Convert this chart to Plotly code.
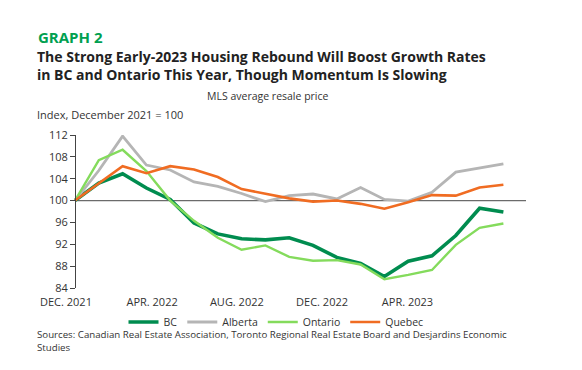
import plotly.graph_objects as go

months = ["Dec 2021", "Jan 2022", "Feb 2022", "Mar 2022", "Apr 2022", "May 2022", "Jun 2022",
          "Jul 2022", "Aug 2022", "Sep 2022", "Oct 2022", "Nov 2022", "Dec 2022", "Jan 2023",
          "Feb 2023", "Mar 2023", "Apr 2023", "May 2023", "Jun 2023"]
bc      = [100, 103.2, 104.9, 102.3, 100.2, 95.9, 93.9, 93.0, 92.8, 93.2, 91.8, 89.6, 88.5, 86.1, 88.9, 89.9, 93.6, 98.6, 97.9]
alberta = [100, 105.5, 111.8, 106.5, 105.6, 103.4, 102.6, 101.3, 99.8, 100.9, 101.2, 100.3, 102.4, 100.2, 99.9, 101.5, 105.2, 105.9, 106.7]
ontario = [100, 107.4, 109.3, 105.4, 100.0, 96.3, 93.2, 91.0, 91.8, 89.7, 89.0, 89.1, 88.3, 85.6, 86.4, 87.3, 91.9, 95.0, 95.8]
quebec  = [100, 103.2, 106.3, 105.0, 106.3, 105.7, 104.3, 102.1, 101.3, 100.4, 99.8, 100.0, 99.4, 98.5, 99.7, 101.0, 100.9, 102.4, 102.9]

y_ticks = [84, 88, 92, 96, 100, 104, 108, 112]
x_tick_text = ["DEC. 2021", "APR. 2022", "AUG. 2022", "DEC. 2022", "APR. 2023"]
x_tick_pos = [-0.38, 3.24, 6.8, 10.38, 13.97]

OFF = 8  # default page body margin
WIN_W, WIN_H = 582, 370
W, H = WIN_W - 2 * OFF, WIN_H - 2 * OFF
# target plot area in window pixels
AX_PIX = 75       # Dec 2021 / y axis line
RIGHT_PIX = 526
TOP_PIX = 135     # y = 112
BOT_PIX = 288     # y = 84
LEFT_PIX = 30
ML = LEFT_PIX - OFF
MR = W - (RIGHT_PIX - OFF)
MT = TOP_PIX - OFF
MB = H - (BOT_PIX - OFF)
PH = H - MT - MB
PW = W - ML - MR
PX_PER_MONTH = (RIGHT_PIX - AX_PIX) / 18.95
X_LEFT = -(AX_PIX - LEFT_PIX) / PX_PER_MONTH

def py(pix):
    return (BOT_PIX - pix) / PH

def px(pix):
    return (pix - LEFT_PIX) / PW

FONT = "Open Sans"
x = list(range(len(months)))

fig = go.Figure()
series = [
    ("BC", bc, "#008c4f", 3.6),
    ("Alberta", alberta, "#b5b5b5", 2.8),
    ("Ontario", ontario, "#84db5c", 2.4),
    ("Quebec", quebec, "#f06c22", 2.6),
]
for name, vals, col, w in series:
    fig.add_trace(go.Scatter(x=x, y=vals, name=name, mode="lines",
                             line=dict(color=col, width=w),
                             customdata=months,
                             hovertemplate="%{customdata}: %{y}<extra>" + name + "</extra>"))

fig.add_shape(type="line", xref="x", yref="y", x0=0, x1=18.95, y0=100, y1=100,
              line=dict(color="#6b6b6b", width=1.2), layer="below")

fig.update_layout(
    width=W, height=H,
    margin=dict(l=ML, r=MR, t=MT, b=MB, autoexpand=False),
    paper_bgcolor="white", plot_bgcolor="white",
    font=dict(family=FONT, size=11, color="#333333"),
    showlegend=True,
    legend=dict(orientation="h", x=px(276), xanchor="center", y=py(322), yanchor="middle",
                font=dict(size=10.5, color="#333333"), itemwidth=30,
                tracegroupgap=0, traceorder="normal"),
    xaxis=dict(range=[X_LEFT, 18.95], showgrid=False, zeroline=False, showline=False,
               tickmode="array", tickvals=x_tick_pos, ticktext=x_tick_text,
               ticks="outside", ticklen=4, tickcolor="rgba(0,0,0,0)",
               tickfont=dict(size=11, color="#333333"), automargin=False),
    yaxis=dict(range=[84, 112], showgrid=False, zeroline=False, showline=True,
               anchor="free", position=px(AX_PIX),
               linecolor="#444444", linewidth=1, tickmode="array", tickvals=y_ticks,
               ticks="outside", ticklen=5, tickcolor="#444444",
               tickfont=dict(size=11, color="#333333"), automargin=False),
)

anns = [
    dict(text="<b>GRAPH 2</b>", x=px(36), y=py(25), font=dict(size=15, color="#00a050")),
    dict(text="<b>The Strong Early-2023 Housing Rebound Will Boost Growth Rates<br>"
              "in BC and Ontario This Year, Though Momentum Is Slowing</b>",
         x=px(35), y=py(45), font=dict(size=14, color="#222222")),
    dict(text="Index, December 2021 = 100", x=px(35), y=py(105), font=dict(size=11, color="#333333")),
    dict(text="Sources: Canadian Real Estate Association, Toronto Regional Real Estate Board and Desjardins Economic<br>Studies",
         x=px(35), y=py(326), font=dict(size=9.7, color="#333333")),
]
for a in anns:
    fig.add_annotation(xref="paper", yref="paper", xanchor="left", yanchor="top",
                       showarrow=False, align="left", **a)
fig.add_annotation(text="MLS average resale price", xref="paper", yref="paper",
                   x=px(268), y=py(86.5), xanchor="center", yanchor="top", showarrow=False,
                   font=dict(size=10.5, color="#333333"))

fig.write_html("out.html")
